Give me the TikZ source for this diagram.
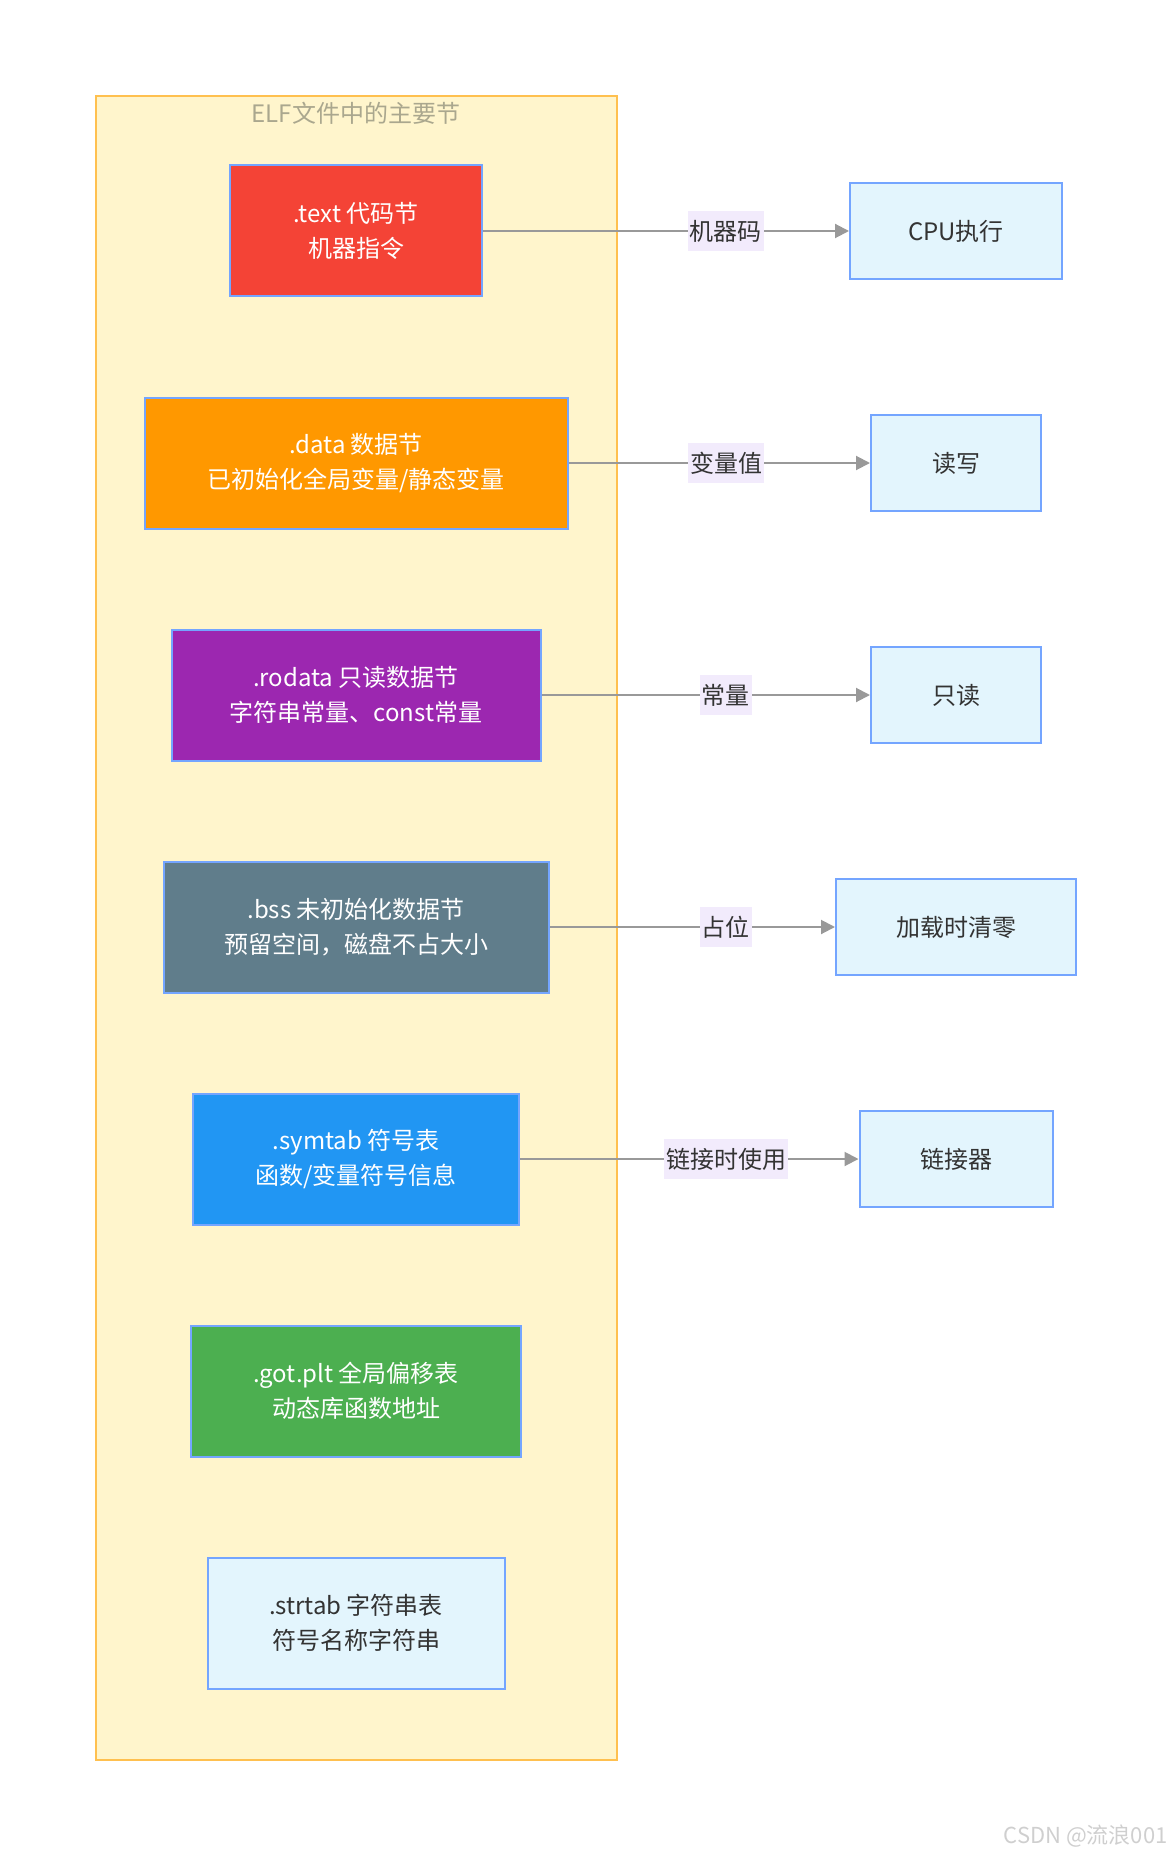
\documentclass[tikz,border=0pt]{standalone}
\usepackage{fontspec}
\setmainfont{Noto Sans CJK SC}
\usepackage{tikz}
\usetikzlibrary{arrows.meta}
\definecolor{boxline}{HTML}{74A5FF}
\definecolor{groupline}{HTML}{FFC04F}
\definecolor{groupfill}{HTML}{FFF5CC}
\definecolor{titlegray}{HTML}{AAA78E}
\definecolor{codered}{HTML}{F44336}
\definecolor{dataorange}{HTML}{FF9800}
\definecolor{ropurple}{HTML}{9C27B0}
\definecolor{bssgray}{HTML}{607D8B}
\definecolor{symblue}{HTML}{2196F3}
\definecolor{gotgreen}{HTML}{4CAF50}
\definecolor{lightfill}{HTML}{E3F5FD}
\definecolor{darktext}{HTML}{333333}
\definecolor{labelbg}{HTML}{F2EBFC}
\definecolor{edgegray}{HTML}{999999}
\definecolor{markgray}{HTML}{CFCFCF}
\newcommand{\boxfont}{\fontsize{12}{17.5}\selectfont}
\tikzstyle{section} = [rectangle, minimum height=65.5pt, text centered, align=center, draw=boxline, line width=1pt, text=white, font=\boxfont]
\tikzstyle{target} = [rectangle, minimum height=48pt, text centered, draw=boxline, line width=1pt, fill=lightfill, text=darktext, font=\boxfont]
\tikzstyle{edgelabel} = [rectangle, fill=labelbg, inner xsep=1pt, inner ysep=0pt, minimum height=20pt, text=darktext, font=\boxfont]
\tikzstyle{arrow} = [-{Triangle[length=7pt,width=7pt]}, draw=edgegray, fill=edgegray, line width=1pt]

\begin{document}
\begin{tikzpicture}[x=0.5pt, y=-0.5pt, node distance=116pt]
	\useasboundingbox (0,0) rectangle (1172,1856);
	\draw [draw=groupline, fill=groupfill, line width=1pt] (96,96) rectangle (617,1760);
	\node (title) [font=\boxfont, text=titlegray] at (356,113) {ELF文件中的主要节};
	
	\node (textsec) [section, fill=codered, minimum width=126pt] at (356,231) {.text 代码节\\机器指令};
	\node (datasec) [section, fill=dataorange, minimum width=211.5pt, below of=textsec] {.data 数据节\\已初始化全局变量/静态变量};
	\node (rodatasec) [section, fill=ropurple, minimum width=184.5pt, below of=datasec] {.rodata 只读数据节\\字符串常量、const常量};
	\node (bsssec) [section, fill=bssgray, minimum width=192.5pt, below of=rodatasec] {.bss 未初始化数据节\\预留空间，磁盘不占大小};
	\node (symtabsec) [section, fill=symblue, minimum width=163pt, below of=bsssec] {.symtab 符号表\\函数/变量符号信息};
	\node (gotsec) [section, fill=gotgreen, minimum width=165pt, below of=symtabsec] {.got.plt 全局偏移表\\动态库函数地址};
	\node (strtabsec) [section, fill=lightfill, text=darktext, minimum width=148.5pt, below of=gotsec] {.strtab 字符串表\\符号名称字符串};
	
	\node (cpu) [target, minimum width=106pt, right of=textsec, node distance=300pt] {CPU执行};
	\node (rw) [target, minimum width=85pt, right of=datasec, node distance=300pt] {读写};
	\node (ro) [target, minimum width=85pt, right of=rodatasec, node distance=300pt] {只读};
	\node (zero) [target, minimum width=120pt, right of=bsssec, node distance=300pt] {加载时清零};
	\node (linker) [target, minimum width=96.5pt, right of=symtabsec, node distance=300pt] {链接器};
	
	\draw [arrow](textsec) -- node[edgelabel, pos=0.663] (lblcode) {机器码} (cpu);
	\draw [arrow](datasec) -- node[edgelabel, pos=0.523] (lblvar) {变量值} (rw);
	\draw [arrow](rodatasec) -- node[edgelabel, pos=0.561] (lblconst) {常量} (ro);
	\draw [arrow](bsssec) -- node[edgelabel, pos=0.618] (lblhold) {占位} (zero);
	\draw [arrow](symtabsec) -- node[edgelabel, pos=0.609] (lbllink) {链接时使用} (linker);
	
	\node (mark) [anchor=east, inner sep=0pt, text=markgray, font=\fontsize{11}{12}\selectfont] at (1168,1836) {CSDN @流浪001};
\end{tikzpicture}
\end{document}
